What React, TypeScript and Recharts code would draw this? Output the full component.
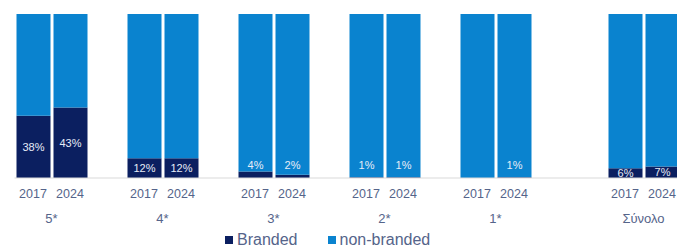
import React from 'react';
import { BarChart, Bar, XAxis, YAxis, Legend, LabelList } from 'recharts';

const groups = ['5*', '4*', '3*', '2*', '1*', 'Σύνολο'];
const years = ['2017', '2024'];
const branded2017 = [38, 12, 4, 0.5, 0, 6];
const branded2024 = [43, 12, 2, 0.5, 0.5, 7];
const gapsAfter = [1, 1, 1, 1, 2, 0];

const NAVY = '#0b1f60';
const BLUE = '#0a83cf';
const TEXT = '#55648a';
const FONT = '"Liberation Sans", Arial, sans-serif';

type Row = { id: string; branded?: number; nonBranded?: number };
const rows: Row[] = [];
groups.forEach((g, i) => {
  const vals = [branded2017[i], branded2024[i]];
  years.forEach((yr, j) => {
    rows.push({ id: `${g}|${yr}`, branded: vals[j], nonBranded: 100 - vals[j] });
  });
  for (let k = 0; k < gapsAfter[i]; k++) rows.push({ id: `gap-${i}-${k}` });
});

const Tick = (props: any) => {
  const { x, y, payload } = props;
  const parts = String(payload.value).split('|');
  if (parts.length < 2) return null;
  const [g, yr] = parts;
  const half = payload.offset || 18.5;
  return (
    <g>
      <text x={x} y={y + 20} textAnchor="middle" fill={TEXT} fontSize={12.5} fontFamily={FONT}>
        {yr}
      </text>
      {yr === years[0] && (
        <text x={x + half} y={y + 45} textAnchor="middle" fill={TEXT} fontSize={13} fontFamily={FONT}>
          {g}
        </text>
      )}
    </g>
  );
};

const PctLabel = (props: any) => {
  const { x, y, width, height, value } = props;
  if (!value) return null;
  const cy = height < 9 ? y + height - 13 : y + height / 2;
  return (
    <text
      x={x + width / 2}
      y={cy}
      dy={4}
      textAnchor="middle"
      fill="#e6ecf7"
      fontSize={11}
      fontFamily={FONT}
    >
      {`${Math.round(value)}%`}
    </text>
  );
};

const LegendContent = () => (
  <div
    style={{
      display: 'flex',
      alignItems: 'center',
      height: 26,
      paddingTop: 6,
      paddingLeft: 225,
      boxSizing: 'border-box',
      fontFamily: FONT,
      fontSize: 16,
      color: TEXT,
    }}
  >
    {[
      { name: 'Branded', color: NAVY },
      { name: 'non-branded', color: BLUE },
    ].map((it, i) => (
      <div key={it.name} style={{ display: 'flex', alignItems: 'center', marginLeft: i ? 30 : 0 }}>
        <span style={{ width: 8, height: 8, background: it.color, display: 'inline-block', marginRight: 4 }} />
        <span>{it.name}</span>
      </div>
    ))}
  </div>
);

export default function App() {
  return (
    <div style={{ position: 'absolute', left: 0, top: 0, width: 677, height: 250, overflow: 'hidden', background: '#fff' }}>
      <BarChart
        width={700}
        height={250}
        data={rows}
        margin={{ top: 14, left: 14.5, right: 19.5, bottom: 0 }}
        barSize={34}
      >
        <XAxis
          dataKey="id"
          interval={0}
          tickLine={false}
          tickSize={0}
          tickMargin={0}
          axisLine={{ stroke: '#d9d9d9' }}
          height={46}
          tick={<Tick />}
        />
        <YAxis hide domain={[0, 100]} />
        <Legend
          verticalAlign="bottom"
          height={26}
          wrapperStyle={{ left: 0, width: 677 }}
          content={<LegendContent />}
        />
        <Bar dataKey="branded" name="Branded" stackId="a" fill={NAVY} isAnimationActive={false}>
          <LabelList dataKey="branded" content={<PctLabel />} />
        </Bar>
        <Bar dataKey="nonBranded" name="non-branded" stackId="a" fill={BLUE} isAnimationActive={false} />
      </BarChart>
    </div>
  );
}
